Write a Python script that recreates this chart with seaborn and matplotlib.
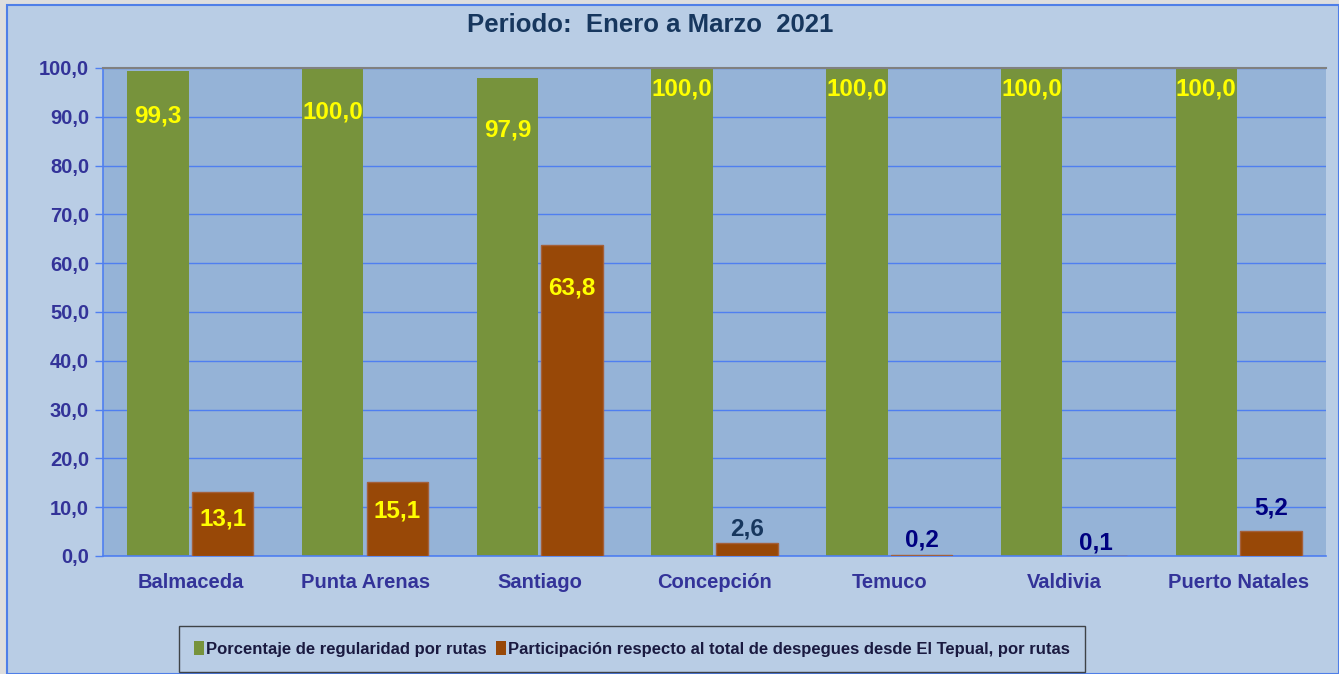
import pandas as pd
import matplotlib.pyplot as plt
import seaborn as sns
from matplotlib.patches import Rectangle
from matplotlib.ticker import FuncFormatter, MultipleLocator

# ===============================
# Data
# ===============================

rutas = ["Balmaceda", "Punta Arenas", "Santiago", "Concepción",
         "Temuco", "Valdivia", "Puerto Natales"]
regularidad = [99.3, 100.0, 97.9, 100.0, 100.0, 100.0, 100.0]
participacion = [13.1, 15.1, 63.8, 2.6, 0.2, 0.1, 5.2]

serie_reg = "Porcentaje de regularidad por rutas"
serie_par = "Participación respecto al total de despegues desde El Tepual, por rutas"

df = pd.DataFrame({
    "Ruta": rutas * 2,
    "Valor": regularidad + participacion,
    "Serie": [serie_reg] * len(rutas) + [serie_par] * len(rutas),
})

# ===============================
# Style
# ===============================

sns.set_theme(style="white")
plt.rcParams["font.family"] = ["Liberation Sans", "DejaVu Sans"]
plt.rcParams["font.weight"] = "bold"

GREEN = "#77933c"
ORANGE = "#984807"
BG = "#b9cde5"
PLOT_BG = "#95b3d7"
GRID = "#4f7ff0"
AXIS_TXT = "#333399"

fig = plt.figure(figsize=(13.39, 6.74), dpi=100, facecolor="#dedede")
fig.patches.append(Rectangle((7 / 1339, 0), 1 - 7 / 1339, 1 - 5 / 674,
                             transform=fig.transFigure, facecolor=BG,
                             edgecolor="#4f7fe8", linewidth=1.5, zorder=-10))

ax = fig.add_axes([103 / 1339, 1 - 556 / 674, 1223 / 1339, 488 / 674])
ax.set_facecolor(PLOT_BG)

sns.barplot(data=df, x="Ruta", y="Valor", hue="Serie",
            palette=[GREEN, ORANGE], width=0.74, gap=0.05,
            saturation=1, edgecolor="none", ax=ax, legend=True)

ax.set_ylim(0, 100)
ax.set_xlim(-0.5, len(rutas) - 0.5)
ax.yaxis.set_major_locator(MultipleLocator(10))
ax.yaxis.set_major_formatter(FuncFormatter(lambda v, p: f"{v:.1f}".replace(".", ",")))
ax.yaxis.grid(True, color=GRID, linewidth=1)
ax.set_axisbelow(True)
ax.set_xlabel("")
ax.set_ylabel("")

ax.tick_params(axis="y", labelsize=14.5, labelcolor=AXIS_TXT, colors=GRID,
               length=6, width=1, direction="out", left=True, pad=4)
ax.tick_params(axis="x", labelsize=14.5, labelcolor=AXIS_TXT, length=0, pad=12)

# category boundary ticks on x axis
ax.set_xticks([i - 0.5 for i in range(len(rutas) + 1)], minor=True)
ax.tick_params(axis="x", which="minor", length=6, color=GRID, width=1)

for side in ["left", "bottom"]:
    ax.spines[side].set_color(GRID)
    ax.spines[side].set_linewidth(1.2)
ax.spines["top"].set_color("#808080")
ax.spines["top"].set_linewidth(1.5)
ax.spines["right"].set_visible(False)

# ===============================
# Data labels
# ===============================

reg_offsets = [-43, -42, -50, -20, -20, -20, -20]
par_offsets = [-26, -28, -42, 14, 14, 12, 22]
par_colors = ["#ffff00", "#ffff00", "#ffff00", "#17375e", "#000080", "#000080", "#000080"]

reg_bars, par_bars = ax.containers[0], ax.containers[1]
for bar in par_bars:
    bar.set_edgecolor("#a4603a")
    bar.set_linewidth(1)
    bar.set_zorder(3)

for bar, val, off in zip(reg_bars, regularidad, reg_offsets):
    ax.annotate(f"{val:.1f}".replace(".", ","),
                (bar.get_x() + bar.get_width() / 2, bar.get_height()),
                xytext=(0, off * 0.75), textcoords="offset points",
                ha="center", va="center", fontsize=17.5, fontweight="bold",
                color="#ffff00")
for bar, val, off, col in zip(par_bars, participacion, par_offsets, par_colors):
    ax.annotate(f"{val:.1f}".replace(".", ","),
                (bar.get_x() + bar.get_width() / 2, bar.get_height()),
                xytext=(0, off * 0.75), textcoords="offset points",
                ha="center", va="center", fontsize=17.5, fontweight="bold",
                color=col)

# ===============================
# Title and legend
# ===============================

fig.text(650 / 1339, 1 - 25 / 674, "Periodo:  Enero a Marzo  2021",
         ha="center", va="center", fontsize=18.5, fontweight="bold",
         color="#17375e")

handles, labels = ax.get_legend_handles_labels()
ax.get_legend().remove()
leg = fig.legend(handles, labels, loc="center",
                 bbox_to_anchor=(632 / 1339, 1 - 649 / 674), ncol=2,
                 frameon=True, fancybox=False, handlelength=0.6,
                 handleheight=0.9, handletextpad=0.1, columnspacing=0.6,
                 borderpad=0.9, prop={"weight": "bold", "size": 12})
leg.get_frame().set_facecolor(BG)
leg.get_frame().set_edgecolor("#202020")
leg.get_frame().set_linewidth(1)
for txt in leg.get_texts():
    txt.set_color("#1a1a40")

plt.savefig("out.png", dpi=100, facecolor=fig.get_facecolor())
plt.close()
